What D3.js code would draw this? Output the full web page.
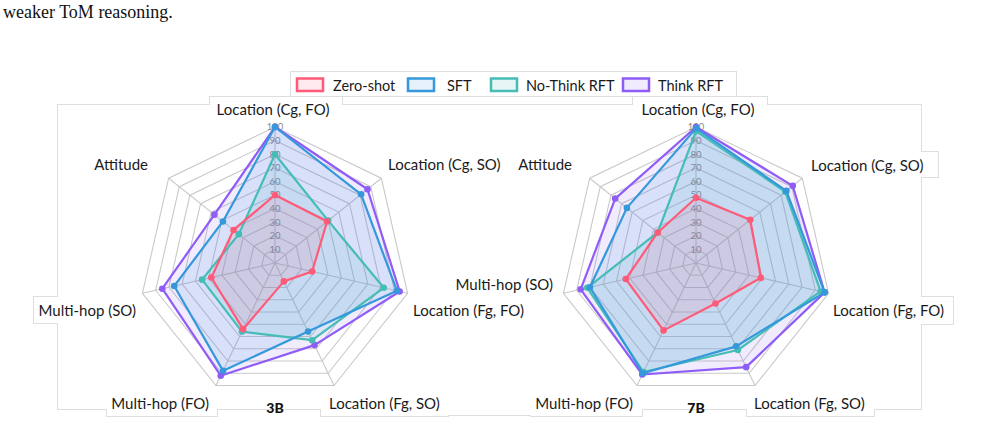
<!DOCTYPE html>
<html><head><meta charset="utf-8">
<script src="https://cdn.jsdelivr.net/npm/d3@7"></script>
<style>
html,body{margin:0;padding:0;background:#fff;}
svg{display:block;}
</style></head>
<body>
<div id="chart"></div>
<script>
// ---------- data ----------
const axes = ["Location (Cg, FO)", "Location (Cg, SO)", "Location (Fg, FO)", "Location (Fg, SO)", "Multi-hop (FO)", "Multi-hop (SO)", "Attitude"];
const seriesNames = ["Zero-shot", "SFT", "No-Think RFT", "Think RFT"];
const tickValues = [10, 20, 30, 40, 50, 60, 70, 80, 90, 100];
const zeroShot3B = [50, 49, 28, 15, 54, 48, 39];
const sft3B      = [100, 81, 92, 56, 88, 76, 49];
const noThink3B  = [80, 50, 82, 63, 56, 55, 34];
const think3B    = [100, 87, 94, 67, 92, 85, 57];
const zeroShot7B = [48, 51, 49, 33, 55, 53, 36];
const sft7B      = [99, 85, 97, 68, 90, 80, 65];
const noThink7B  = [97, 84, 94, 71, 89, 82, 36];
const think7B    = [100, 91, 97, 85, 91, 87, 76];
const captionText = "weaker ToM reasoning.";

// ---------- style ----------
const colors = ["#ff5a78", "#3498db", "#45bcb5", "#8f5cf7"];
const swatchFills = ["#fde9ee", "#e6f1fb", "#e7f6f5", "#f1ebfe"];
const W = 983, H = 423;
const labelFont = "Lato, 'Noto Sans', sans-serif";

const svg = d3.select("#chart").append("svg").attr("width", W).attr("height", H);

// caption line
svg.append("text").attr("x", 3).attr("y", 18)
  .style("font-family", "'Liberation Serif', 'Times New Roman', serif")
  .style("font-size", "18px").attr("fill", "#111").text(captionText);

// ---------- faint frame outlines (union of boxes) ----------
const frameBoxes = [
  [58, 105, 921, 409],
  [210, 97, 342, 125], [633, 97, 767, 125],
  [34, 297, 140, 323],
  [107, 395, 217, 416], [321, 395, 448, 416], [448, 395, 532, 415],
  [531, 395, 642, 416], [747, 395, 874, 416],
  [805, 152, 938, 177], [828, 297, 953, 324],
  [291, 72, 736, 96]
];
const fg = svg.append("g");
fg.selectAll("rect.s").data(frameBoxes).join("rect").attr("class", "s")
  .attr("x", d => d[0]).attr("y", d => d[1]).attr("width", d => d[2] - d[0]).attr("height", d => d[3] - d[1])
  .attr("fill", "none").attr("stroke", "#dedede").attr("stroke-width", 2);
fg.selectAll("rect.f").data(frameBoxes).join("rect").attr("class", "f")
  .attr("x", d => d[0]).attr("y", d => d[1]).attr("width", d => d[2] - d[0]).attr("height", d => d[3] - d[1])
  .attr("fill", "#fff");

// ---------- legend ----------
const legendX = [297, 408, 491, 623];
const legendTextDx = [36, 39, 35, 35];
const lg = svg.append("g");
seriesNames.forEach((name, i) => {
  lg.append("rect").attr("x", legendX[i]).attr("y", 78.5).attr("width", 26).attr("height", 12.5)
    .attr("fill", swatchFills[i]).attr("stroke", colors[i]).attr("stroke-width", 2.5);
  lg.append("text").attr("x", legendX[i] + legendTextDx[i]).attr("y", 85.5).attr("dy", "0.35em")
    .style("font-family", labelFont).style("font-size", "14.5px").attr("fill", "#1a1a1a").text(name);
});

// ---------- radar charts ----------
const charts = [
  { title: "3B", cx: 275, cy: 263, series: [zeroShot3B, sft3B, noThink3B, think3B],
    labels: [[-2, -153, "middle"], [113, -98, "start"], [138, 48, "start"], [54, 141, "start"], [-66, 141, "end"], [-139, 48, "end"], [-127, -98, "end"]] },
  { title: "7B", cx: 696, cy: 263, series: [zeroShot7B, sft7B, noThink7B, think7B],
    labels: [[2, -153, "middle"], [115, -97, "start"], [137, 48, "start"], [58, 141, "start"], [-63, 141, "end"], [-143, 22, "end"], [-124, -98, "end"]] }
];
const R = 136;
const r = d3.scaleLinear().domain([0, 100]).range([0, R]);
const n = axes.length;
const ang = i => i * 2 * Math.PI / n;
const radial = d3.lineRadial().angle((d, i) => ang(i)).radius(d => r(d)).curve(d3.curveLinearClosed);
const drawOrder = [3, 2, 1, 0];

charts.forEach(ch => {
  const g = svg.append("g").attr("transform", `translate(${ch.cx},${ch.cy})`);
  // rings
  g.selectAll("path.ring").data(tickValues).join("path").attr("class", "ring")
    .attr("d", v => radial(axes.map(() => v)))
    .attr("fill", "none").attr("stroke", "#c9c9c9").attr("stroke-width", 1.1);
  // spokes
  g.selectAll("line.spoke").data(axes).join("line").attr("class", "spoke")
    .attr("x1", 0).attr("y1", 0)
    .attr("x2", (d, i) => r(100) * Math.sin(ang(i)))
    .attr("y2", (d, i) => -r(100) * Math.cos(ang(i)))
    .attr("stroke", "#c9c9c9").attr("stroke-width", 1.1);
  // tick labels
  g.selectAll("text.tick").data(tickValues).join("text").attr("class", "tick")
    .attr("x", 0).attr("y", v => -r(v)).attr("dy", "0.35em").attr("text-anchor", "middle")
    .style("font-family", labelFont).style("font-size", "9.5px").attr("fill", "#8a8a8a")
    .text(v => v);
  // fills
  drawOrder.forEach(si => {
    g.append("path").attr("d", radial(ch.series[si]))
      .attr("fill", colors[si]).attr("fill-opacity", 0.12).attr("stroke", "none");
  });
  // lines + markers
  drawOrder.forEach(si => {
    g.append("path").attr("d", radial(ch.series[si]))
      .attr("fill", "none").attr("stroke", colors[si]).attr("stroke-width", 2.2).attr("stroke-linejoin", "round");
    g.selectAll(null).data(ch.series[si]).join("circle")
      .attr("cx", (d, i) => r(d) * Math.sin(ang(i)))
      .attr("cy", (d, i) => -r(d) * Math.cos(ang(i)))
      .attr("r", 3.3).attr("fill", colors[si]);
  });
  // axis labels
  axes.forEach((a, i) => {
    const L = ch.labels[i];
    g.append("text").attr("x", L[0]).attr("y", L[1]).attr("dy", "0.35em").attr("text-anchor", L[2])
      .style("font-family", labelFont).style("font-size", "15px").attr("fill", "#1a1a1a").text(a);
  });
  // title
  g.append("text").attr("x", 0).attr("y", 145).attr("dy", "0.35em").attr("text-anchor", "middle")
    .style("font-family", labelFont).style("font-size", "14px").style("font-weight", 900)
    .attr("fill", "#111").text(ch.title);
});
</script>
</body></html>
